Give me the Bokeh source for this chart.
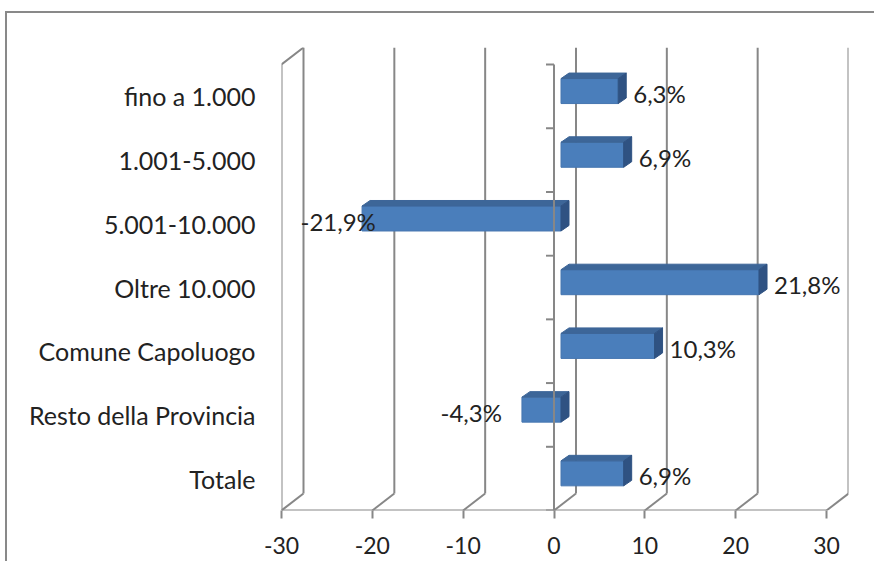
from bokeh.plotting import figure
from bokeh.models import FixedTicker, Range1d
from bokeh.core.properties import value
from bokeh.embed import file_html
from bokeh.resources import INLINE

# ---- data ----
categories = ["fino a 1.000", "1.001-5.000", "5.001-10.000", "Oltre 10.000",
              "Comune Capoluogo", "Resto della Provincia", "Totale"]
values = [6.3, 6.9, -21.9, 21.8, 10.3, -4.3, 6.9]
x_ticks = [-30, -20, -10, 0, 10, 20, 30]
x_tick_labels = ["-30", "-20", "-10", "0", "10", "20", "30"]

FONT = "Lato"
GRID = "#878787"
TXT = "#222222"

# pixel scales (for the oblique 3-D look)
KX = 545 / 60.0     # px per value unit
KY = 446 / 7.0      # px per category unit
DXW, DYW = 22 / KX, 17 / KY        # wall depth
BX, BY = 7 / KX, 5.3 / KY          # bar front-face offset
HT = 12.5 / KY                      # half bar thickness
DXB, DYB = 8 / KX, 5.5 / KY         # bar depth

n = len(categories)
centers = [n - 0.5 - i for i in range(n)]
xmin, xmax = x_ticks[0], x_ticks[-1]

W, H = 869, 550
p = figure(width=W, height=H, output_backend="svg", toolbar_location=None,
           x_range=Range1d(xmin, xmin + 567 / KX), y_range=Range1d(0, 463 / KY),
           min_border_left=274, min_border_right=28, min_border_top=34, min_border_bottom=53,
           background_fill_color="white", border_fill_color="white",
           outline_line_color=None)
p.styles = {"position": "relative", "left": "5px", "top": "11px",
            "border-left": "2px solid #898989", "border-top": "2px solid #898989"}
p.xgrid.visible = False
p.ygrid.visible = False

# back wall grid lines + floor diagonals
p.segment(x0=[t + DXW for t in x_ticks], y0=[DYW] * len(x_ticks),
          x1=[t + DXW for t in x_ticks], y1=[n + DYW] * len(x_ticks),
          line_color=GRID, line_width=2)
p.segment(x0=x_ticks, y0=[0] * len(x_ticks),
          x1=[t + DXW for t in x_ticks], y1=[DYW] * len(x_ticks),
          line_color=GRID, line_width=2)
# left wall front edge and top
p.line(x=[xmin, xmin, xmin + DXW], y=[0, n, n + DYW], line_color=GRID, line_width=2)
# front floor line
p.line(x=[xmin, xmax], y=[0, 0], line_color=GRID, line_width=2)

# bars
FRONT, TOP, SIDE = "#4A7EBB", "#3D6698", "#2F5282"
lefts = [min(0, v) + BX for v in values]
rights = [max(0, v) + BX for v in values]
bots = [c + BY - HT for c in centers]
tops = [c + BY + HT for c in centers]
p.quad(left=lefts, right=rights, bottom=bots, top=tops,
       fill_color=FRONT, line_color="#4676B0", line_width=1)
p.patches(xs=[[l, r, r + DXB, l + DXB] for l, r in zip(lefts, rights)],
          ys=[[t, t, t + DYB, t + DYB] for t in tops],
          fill_color=TOP, line_color=TOP, line_width=1)
p.patches(xs=[[r, r, r + DXB, r + DXB] for r in rights],
          ys=[[b, t, t + DYB, b + DYB] for b, t in zip(bots, tops)],
          fill_color=SIDE, line_color=SIDE, line_width=1)

# category axis at 0 (front plane) drawn over bars
p.line(x=[0, 0], y=[0, n], line_color=GRID, line_width=2)
p.segment(x0=[-8 / KX] * (n + 1), y0=list(range(n + 1)),
          x1=[0] * (n + 1), y1=list(range(n + 1)), line_color=GRID, line_width=2)

# data labels
lab_txt = [("%.1f" % v).replace(".", ",") + "%" for v in values]
pos_x, pos_y, pos_t = [], [], []
neg_x, neg_y, neg_t = [], [], []
for v, c, t in zip(values, centers, lab_txt):
    yy = c + BY / 2
    if v >= 0:
        pos_x.append(v + BX + DXB + 7 / KX); pos_y.append(yy); pos_t.append(t)
    else:
        xr = v + BX - 20 / KX
        if xr - 80 / KX < xmin + DXW:
            pos_x.append(xmin + DXW - 3 / KX); pos_y.append(yy); pos_t.append(t)
        else:
            neg_x.append(xr); neg_y.append(yy); neg_t.append(t)
p.text(x=pos_x, y=pos_y, text=pos_t, text_align="left", text_baseline="middle",
       text_font=value(FONT), text_font_size="24px", text_color=TXT)
p.text(x=neg_x, y=neg_y, text=neg_t, text_align="right", text_baseline="middle",
       text_font=value(FONT), text_font_size="24px", text_color=TXT)

# x axis (ticks and labels)
xa = p.xaxis[0]
xa.ticker = FixedTicker(ticks=x_ticks)
xa.major_label_overrides = {t: s for t, s in zip(x_ticks, x_tick_labels)}
xa.axis_line_color = None
xa.major_tick_out = 8
xa.major_tick_in = 0
xa.major_tick_line_color = GRID
xa.major_tick_line_width = 2
xa.minor_tick_line_color = None
xa.major_label_standoff = 18
xa.major_label_text_font = FONT
xa.major_label_text_font_size = "23px"
xa.major_label_text_color = TXT

# y axis (category labels)
ya = p.yaxis[0]
ya.ticker = FixedTicker(ticks=centers)
ya.major_label_overrides = {c: cat for c, cat in zip(centers, categories)}
ya.axis_line_color = None
ya.major_tick_line_color = None
ya.minor_tick_line_color = None
ya.major_tick_out = 0
ya.major_tick_in = 0
ya.major_label_standoff = 26
ya.major_label_text_font = FONT
ya.major_label_text_font_size = "25px"
ya.major_label_text_color = TXT

open("out.html", "w").write(file_html(p, INLINE))
